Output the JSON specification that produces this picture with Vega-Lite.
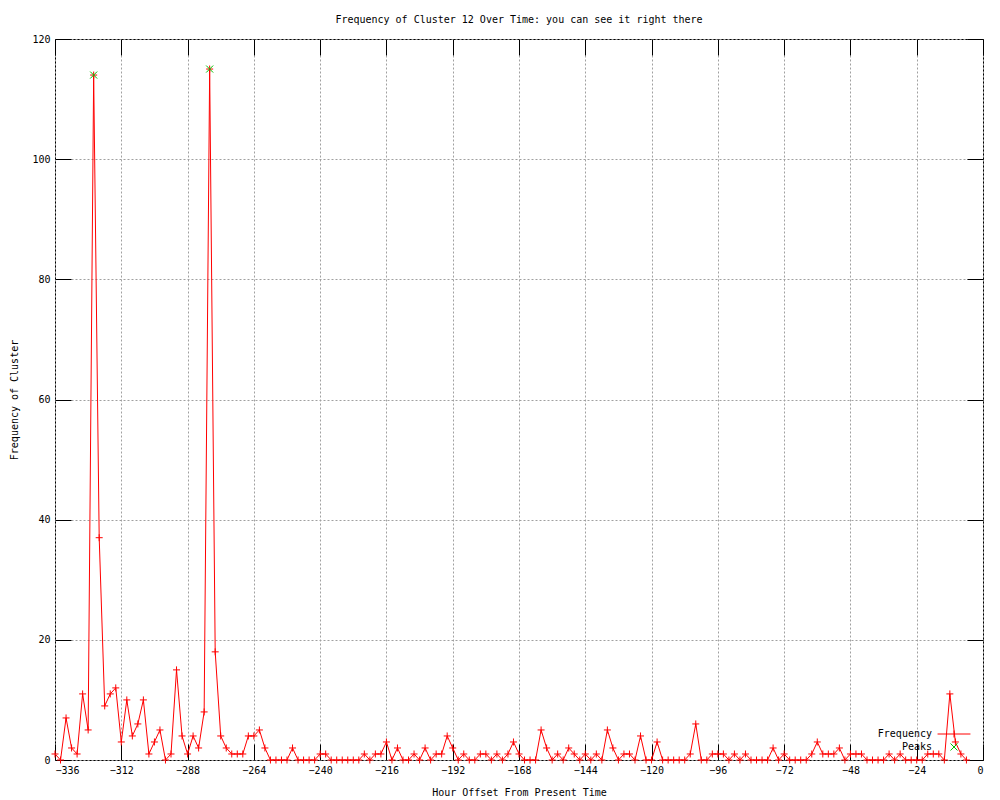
{
  "$schema": "https://vega.github.io/schema/vega-lite/v6.json",
  "width": 928,
  "height": 721,
  "autosize": {"type": "none"},
  "padding": {"left": 55, "top": 39, "right": 17, "bottom": 40},
  "background": "white",
  "config": {
    "view": {"stroke": "black", "strokeWidth": 1},
    "font": "DejaVu Sans Mono",
    "axis": {
      "labelFont": "DejaVu Sans Mono",
      "labelFontSize": 10,
      "labelColor": "black",
      "titleFont": "DejaVu Sans Mono",
      "titleFontSize": 10,
      "titleFontWeight": "normal",
      "titleColor": "black",
      "domain": false,
      "tickColor": "black",
      "tickWidth": 1,
      "tickSize": -16,
      "labelPadding": 21,
      "gridColor": "#a0a0a0",
      "gridDash": [2, 2],
      "gridWidth": 1,
      "gridOpacity": 1
    }
  },
  "title": {
    "text": "Frequency of Cluster 12 Over Time: you can see it right there",
    "font": "DejaVu Sans Mono",
    "fontSize": 10,
    "fontWeight": "normal",
    "color": "black",
    "anchor": "middle",
    "offset": 9
  },
  "data": {
    "values": [
      {"hour": -336, "value": 1, "series": "Frequency"},
      {"hour": -334, "value": 0, "series": "Frequency"},
      {"hour": -332, "value": 7, "series": "Frequency"},
      {"hour": -330, "value": 2, "series": "Frequency"},
      {"hour": -328, "value": 1, "series": "Frequency"},
      {"hour": -326, "value": 11, "series": "Frequency"},
      {"hour": -324, "value": 5, "series": "Frequency"},
      {"hour": -322, "value": 114, "series": "Frequency"},
      {"hour": -320, "value": 37, "series": "Frequency"},
      {"hour": -318, "value": 9, "series": "Frequency"},
      {"hour": -316, "value": 11, "series": "Frequency"},
      {"hour": -314, "value": 12, "series": "Frequency"},
      {"hour": -312, "value": 3, "series": "Frequency"},
      {"hour": -310, "value": 10, "series": "Frequency"},
      {"hour": -308, "value": 4, "series": "Frequency"},
      {"hour": -306, "value": 6, "series": "Frequency"},
      {"hour": -304, "value": 10, "series": "Frequency"},
      {"hour": -302, "value": 1, "series": "Frequency"},
      {"hour": -300, "value": 3, "series": "Frequency"},
      {"hour": -298, "value": 5, "series": "Frequency"},
      {"hour": -296, "value": 0, "series": "Frequency"},
      {"hour": -294, "value": 1, "series": "Frequency"},
      {"hour": -292, "value": 15, "series": "Frequency"},
      {"hour": -290, "value": 4, "series": "Frequency"},
      {"hour": -288, "value": 1, "series": "Frequency"},
      {"hour": -286, "value": 4, "series": "Frequency"},
      {"hour": -284, "value": 2, "series": "Frequency"},
      {"hour": -282, "value": 8, "series": "Frequency"},
      {"hour": -280, "value": 115, "series": "Frequency"},
      {"hour": -278, "value": 18, "series": "Frequency"},
      {"hour": -276, "value": 4, "series": "Frequency"},
      {"hour": -274, "value": 2, "series": "Frequency"},
      {"hour": -272, "value": 1, "series": "Frequency"},
      {"hour": -270, "value": 1, "series": "Frequency"},
      {"hour": -268, "value": 1, "series": "Frequency"},
      {"hour": -266, "value": 4, "series": "Frequency"},
      {"hour": -264, "value": 4, "series": "Frequency"},
      {"hour": -262, "value": 5, "series": "Frequency"},
      {"hour": -260, "value": 2, "series": "Frequency"},
      {"hour": -258, "value": 0, "series": "Frequency"},
      {"hour": -256, "value": 0, "series": "Frequency"},
      {"hour": -254, "value": 0, "series": "Frequency"},
      {"hour": -252, "value": 0, "series": "Frequency"},
      {"hour": -250, "value": 2, "series": "Frequency"},
      {"hour": -248, "value": 0, "series": "Frequency"},
      {"hour": -246, "value": 0, "series": "Frequency"},
      {"hour": -244, "value": 0, "series": "Frequency"},
      {"hour": -242, "value": 0, "series": "Frequency"},
      {"hour": -240, "value": 1, "series": "Frequency"},
      {"hour": -238, "value": 1, "series": "Frequency"},
      {"hour": -236, "value": 0, "series": "Frequency"},
      {"hour": -234, "value": 0, "series": "Frequency"},
      {"hour": -232, "value": 0, "series": "Frequency"},
      {"hour": -230, "value": 0, "series": "Frequency"},
      {"hour": -228, "value": 0, "series": "Frequency"},
      {"hour": -226, "value": 0, "series": "Frequency"},
      {"hour": -224, "value": 1, "series": "Frequency"},
      {"hour": -222, "value": 0, "series": "Frequency"},
      {"hour": -220, "value": 1, "series": "Frequency"},
      {"hour": -218, "value": 1, "series": "Frequency"},
      {"hour": -216, "value": 3, "series": "Frequency"},
      {"hour": -214, "value": 0, "series": "Frequency"},
      {"hour": -212, "value": 2, "series": "Frequency"},
      {"hour": -210, "value": 0, "series": "Frequency"},
      {"hour": -208, "value": 0, "series": "Frequency"},
      {"hour": -206, "value": 1, "series": "Frequency"},
      {"hour": -204, "value": 0, "series": "Frequency"},
      {"hour": -202, "value": 2, "series": "Frequency"},
      {"hour": -200, "value": 0, "series": "Frequency"},
      {"hour": -198, "value": 1, "series": "Frequency"},
      {"hour": -196, "value": 1, "series": "Frequency"},
      {"hour": -194, "value": 4, "series": "Frequency"},
      {"hour": -192, "value": 2, "series": "Frequency"},
      {"hour": -190, "value": 0, "series": "Frequency"},
      {"hour": -188, "value": 1, "series": "Frequency"},
      {"hour": -186, "value": 0, "series": "Frequency"},
      {"hour": -184, "value": 0, "series": "Frequency"},
      {"hour": -182, "value": 1, "series": "Frequency"},
      {"hour": -180, "value": 1, "series": "Frequency"},
      {"hour": -178, "value": 0, "series": "Frequency"},
      {"hour": -176, "value": 1, "series": "Frequency"},
      {"hour": -174, "value": 0, "series": "Frequency"},
      {"hour": -172, "value": 1, "series": "Frequency"},
      {"hour": -170, "value": 3, "series": "Frequency"},
      {"hour": -168, "value": 1, "series": "Frequency"},
      {"hour": -166, "value": 0, "series": "Frequency"},
      {"hour": -164, "value": 0, "series": "Frequency"},
      {"hour": -162, "value": 0, "series": "Frequency"},
      {"hour": -160, "value": 5, "series": "Frequency"},
      {"hour": -158, "value": 2, "series": "Frequency"},
      {"hour": -156, "value": 0, "series": "Frequency"},
      {"hour": -154, "value": 1, "series": "Frequency"},
      {"hour": -152, "value": 0, "series": "Frequency"},
      {"hour": -150, "value": 2, "series": "Frequency"},
      {"hour": -148, "value": 1, "series": "Frequency"},
      {"hour": -146, "value": 0, "series": "Frequency"},
      {"hour": -144, "value": 1, "series": "Frequency"},
      {"hour": -142, "value": 0, "series": "Frequency"},
      {"hour": -140, "value": 1, "series": "Frequency"},
      {"hour": -138, "value": 0, "series": "Frequency"},
      {"hour": -136, "value": 5, "series": "Frequency"},
      {"hour": -134, "value": 2, "series": "Frequency"},
      {"hour": -132, "value": 0, "series": "Frequency"},
      {"hour": -130, "value": 1, "series": "Frequency"},
      {"hour": -128, "value": 1, "series": "Frequency"},
      {"hour": -126, "value": 0, "series": "Frequency"},
      {"hour": -124, "value": 4, "series": "Frequency"},
      {"hour": -122, "value": 0, "series": "Frequency"},
      {"hour": -120, "value": 0, "series": "Frequency"},
      {"hour": -118, "value": 3, "series": "Frequency"},
      {"hour": -116, "value": 0, "series": "Frequency"},
      {"hour": -114, "value": 0, "series": "Frequency"},
      {"hour": -112, "value": 0, "series": "Frequency"},
      {"hour": -110, "value": 0, "series": "Frequency"},
      {"hour": -108, "value": 0, "series": "Frequency"},
      {"hour": -106, "value": 1, "series": "Frequency"},
      {"hour": -104, "value": 6, "series": "Frequency"},
      {"hour": -102, "value": 0, "series": "Frequency"},
      {"hour": -100, "value": 0, "series": "Frequency"},
      {"hour": -98, "value": 1, "series": "Frequency"},
      {"hour": -96, "value": 1, "series": "Frequency"},
      {"hour": -94, "value": 1, "series": "Frequency"},
      {"hour": -92, "value": 0, "series": "Frequency"},
      {"hour": -90, "value": 1, "series": "Frequency"},
      {"hour": -88, "value": 0, "series": "Frequency"},
      {"hour": -86, "value": 1, "series": "Frequency"},
      {"hour": -84, "value": 0, "series": "Frequency"},
      {"hour": -82, "value": 0, "series": "Frequency"},
      {"hour": -80, "value": 0, "series": "Frequency"},
      {"hour": -78, "value": 0, "series": "Frequency"},
      {"hour": -76, "value": 2, "series": "Frequency"},
      {"hour": -74, "value": 0, "series": "Frequency"},
      {"hour": -72, "value": 1, "series": "Frequency"},
      {"hour": -70, "value": 0, "series": "Frequency"},
      {"hour": -68, "value": 0, "series": "Frequency"},
      {"hour": -66, "value": 0, "series": "Frequency"},
      {"hour": -64, "value": 0, "series": "Frequency"},
      {"hour": -62, "value": 1, "series": "Frequency"},
      {"hour": -60, "value": 3, "series": "Frequency"},
      {"hour": -58, "value": 1, "series": "Frequency"},
      {"hour": -56, "value": 1, "series": "Frequency"},
      {"hour": -54, "value": 1, "series": "Frequency"},
      {"hour": -52, "value": 2, "series": "Frequency"},
      {"hour": -50, "value": 0, "series": "Frequency"},
      {"hour": -48, "value": 1, "series": "Frequency"},
      {"hour": -46, "value": 1, "series": "Frequency"},
      {"hour": -44, "value": 1, "series": "Frequency"},
      {"hour": -42, "value": 0, "series": "Frequency"},
      {"hour": -40, "value": 0, "series": "Frequency"},
      {"hour": -38, "value": 0, "series": "Frequency"},
      {"hour": -36, "value": 0, "series": "Frequency"},
      {"hour": -34, "value": 1, "series": "Frequency"},
      {"hour": -32, "value": 0, "series": "Frequency"},
      {"hour": -30, "value": 1, "series": "Frequency"},
      {"hour": -28, "value": 0, "series": "Frequency"},
      {"hour": -26, "value": 0, "series": "Frequency"},
      {"hour": -24, "value": 0, "series": "Frequency"},
      {"hour": -22, "value": 0, "series": "Frequency"},
      {"hour": -20, "value": 1, "series": "Frequency"},
      {"hour": -18, "value": 1, "series": "Frequency"},
      {"hour": -16, "value": 1, "series": "Frequency"},
      {"hour": -14, "value": 0, "series": "Frequency"},
      {"hour": -12, "value": 11, "series": "Frequency"},
      {"hour": -10, "value": 3, "series": "Frequency"},
      {"hour": -8, "value": 1, "series": "Frequency"},
      {"hour": -6, "value": 0, "series": "Frequency"},
      {"hour": -322, "value": 114, "series": "Peaks"},
      {"hour": -280, "value": 115, "series": "Peaks"}
    ]
  },
  "layer": [
    {
      "transform": [{"filter": "datum.series == 'Frequency'"}],
      "mark": {"type": "line", "color": "#ff0000", "strokeWidth": 1, "clip": false},
      "encoding": {
        "x": {
          "field": "hour", "type": "quantitative",
          "scale": {"domain": [-336, 0], "nice": false, "zero": false},
          "axis": {
            "orient": "bottom",
            "values": [-336, -312, -288, -264, -240, -216, -192, -168, -144, -120, -96, -72, -48, -24, 0],
            "title": "Hour Offset From Present Time",
            "titleY": 27,
            "titleBaseline": "top",
            "tickSize": -16,
            "grid": true
          }
        },
        "y": {
          "field": "value", "type": "quantitative",
          "scale": {"domain": [0, 120], "nice": false},
          "axis": {
            "orient": "left",
            "values": [0, 20, 40, 60, 80, 100, 120],
            "title": "Frequency of Cluster",
            "titleX": -41,
            "titleBaseline": "middle",
            "tickSize": -16,
            "grid": true
          }
        }
      }
    },
    {
      "transform": [{"filter": "datum.series == 'Frequency'"}],
      "mark": {"type": "point", "filled": false, "strokeWidth": 1, "size": 49, "opacity": 1, "clip": false, "color": "#ff0000", "shape": "M-1,0H1M0,-1V1"},
      "encoding": {
        "x": {
          "field": "hour", "type": "quantitative",
          "axis": {
            "orient": "top",
            "values": [-336, -312, -288, -264, -240, -216, -192, -168, -144, -120, -96, -72, -48, -24, 0],
            "tickSize": -16,
            "labels": false, "title": null, "grid": false
          }
        },
        "y": {
          "field": "value", "type": "quantitative",
          "axis": {
            "orient": "right",
            "values": [0, 20, 40, 60, 80, 100, 120],
            "tickSize": -16,
            "labels": false, "title": null, "grid": false
          }
        }
      }
    },
    {
      "transform": [{"filter": "datum.series == 'Peaks'"}],
      "mark": {"type": "point", "filled": false, "strokeWidth": 1, "size": 49, "opacity": 1, "clip": false, "color": "#00c000", "shape": "M-1,-1L1,1M-1,1L1,-1"},
      "encoding": {
        "x": {"field": "hour", "type": "quantitative", "axis": null},
        "y": {"field": "value", "type": "quantitative", "axis": null}
      }
    },
    {
      "transform": [{"filter": "datum.value < 0"}],
      "mark": {"type": "point", "filled": false, "strokeWidth": 1, "size": 49, "opacity": 1, "clip": false},
      "encoding": {
        "x": {"field": "hour", "type": "quantitative", "axis": null},
        "y": {"field": "value", "type": "quantitative", "axis": null},
        "color": {
          "field": "series", "type": "nominal",
          "scale": {"domain": ["Frequency", "Peaks"], "range": ["#ff0000", "#00c000"]},
          "legend": {
            "orient": "none",
            "legendX": 894,
            "legendY": 690,
            "title": null,
            "labelAlign": "right",
            "labelOffset": -27,
            "symbolOffset": 0,
            "labelFont": "DejaVu Sans Mono",
            "labelFontSize": 10,
            "labelColor": "black",
            "padding": 0,
            "rowPadding": 1,
            "symbolSize": 49,
            "symbolStrokeWidth": 1,
            "symbolOpacity": 1
          }
        },
        "shape": {
          "field": "series", "type": "nominal",
          "scale": {"domain": ["Frequency", "Peaks"], "range": ["M-4.7,0H4.7M0,-1V1", "M-1,-1L1,1M-1,1L1,-1"]}
        }
      }
    }
  ],
  "resolve": {"axis": {"x": "independent", "y": "independent"}}
}
